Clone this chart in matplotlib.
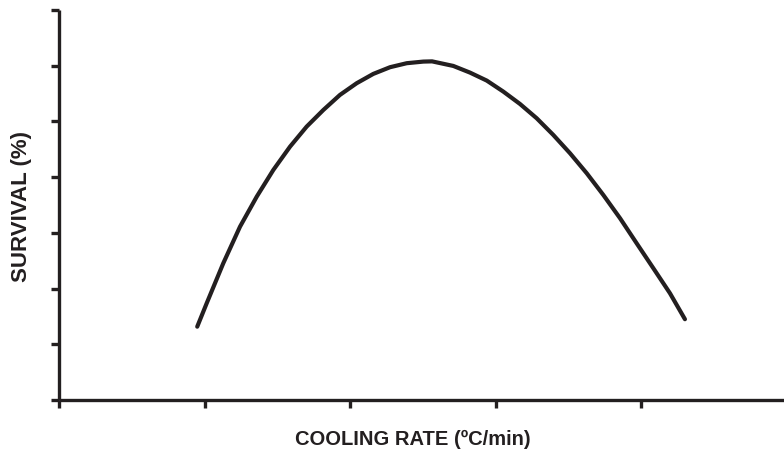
import matplotlib
matplotlib.use("Agg")
import matplotlib.pyplot as plt

# Curve samples (axis units: x ticks 0..4, y ticks 0..7)
cooling_rate = [0.950, 1.015, 1.129, 1.244, 1.359, 1.473, 1.588, 1.702, 1.817,
                1.931, 2.046, 2.160, 2.275, 2.390, 2.504, 2.564, 2.710, 2.825,
                2.940, 3.054, 3.168, 3.283, 3.397, 3.512, 3.627, 3.741, 3.856,
                3.970, 4.085, 4.199, 4.302]
survival = [1.316, 1.736, 2.454, 3.111, 3.650, 4.129, 4.548, 4.907, 5.206,
            5.476, 5.686, 5.853, 5.973, 6.045, 6.074, 6.078, 5.996, 5.876,
            5.733, 5.535, 5.314, 5.057, 4.758, 4.429, 4.070, 3.680, 3.262,
            2.813, 2.364, 1.916, 1.450]
x_ticks = [0, 1, 2, 3, 4]
y_ticks = [0, 1, 2, 3, 4, 5, 6, 7]

ink = "#231f20"
plt.rcParams['font.family'] = ['Liberation Sans', 'DejaVu Sans']

fig = plt.figure(figsize=(7.84, 4.53), dpi=100)
ax = fig.add_axes([59/784, 53/453, 1 - 59/784, 390/453])

ax.plot(cooling_rate, survival, color=ink, lw=3.0, solid_capstyle='round',
        solid_joinstyle='round')

ax.set_xlim(0, 725/145.5)
ax.set_ylim(0, 7)
ax.set_xticks(x_ticks)
ax.set_yticks(y_ticks)
ax.set_xticklabels([])
ax.set_yticklabels([])
for s in ['top', 'right']:
    ax.spines[s].set_visible(False)
for s in ['left', 'bottom']:
    ax.spines[s].set_color(ink)
    ax.spines[s].set_linewidth(2.4)
    ax.spines[s].set_capstyle('butt')
ax.tick_params(direction='out', length=5.5, width=2.4, color=ink)

ax.set_xlabel("COOLING RATE (ºC/min)", fontsize=14.5, fontweight='bold', color=ink)
ax.xaxis.set_label_coords((413-59)/725, -(439-400)/390, transform=ax.transAxes)
ax.set_ylabel("SURVIVAL (%)", fontsize=16, fontweight='bold', color=ink)
ax.yaxis.set_label_coords(-(59-22)/725, (400-207)/390, transform=ax.transAxes)
ax.xaxis.label.set_va('center')
ax.yaxis.label.set_va('center')

fig.savefig("out.png", dpi=100)
